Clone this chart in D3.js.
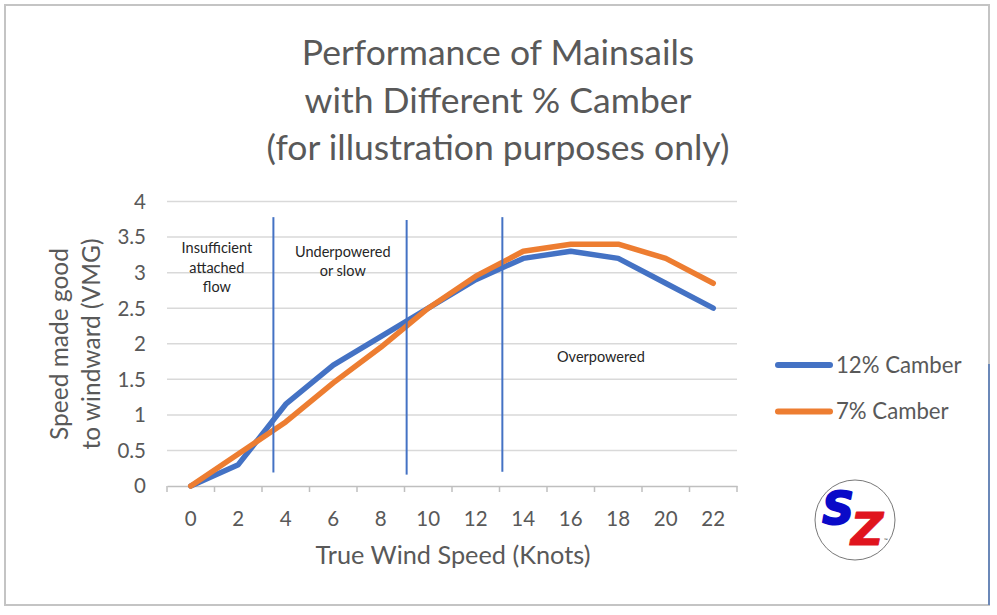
<!DOCTYPE html>
<html>
<head>
<meta charset="utf-8">
<script src="https://cdn.jsdelivr.net/npm/d3@7"></script>
<style>
html,body{margin:0;padding:0;background:#fff;}
svg{display:block;font-family:Lato,"Open Sans",sans-serif;}
</style>
</head>
<body>
<svg id="chart" width="997" height="615"></svg>
<script>
const knots = [0, 2, 4, 6, 8, 10, 12, 14, 16, 18, 20, 22];
const camber12 = [0, 0.3, 1.15, 1.7, 2.1, 2.5, 2.9, 3.2, 3.3, 3.2, 2.85, 2.5];
const camber7 = [0, 0.45, 0.9, 1.45, 1.95, 2.5, 2.95, 3.3, 3.4, 3.4, 3.2, 2.85];
const yTicks = [0, 0.5, 1, 1.5, 2, 2.5, 3, 3.5, 4];
const seriesNames = ["12% Camber", "7% Camber"];
const seriesColors = ["#4472c4", "#ed7d31"];
const dividerKnots = [3.48, 9.09, 13.12];
const dividerTop = [3.78, 3.74, 3.78];
const dividerBottom = [0.19, 0.16, 0.2];
const regionText = [["Insufficient", "attached", "flow"], ["Underpowered", "or slow"], ["Overpowered"]];
const regionX = [1.1, 6.4, 17.27];
const regionY = [3.27, 3.22, 1.75];
const titleLines = ["Performance of Mainsails", "with Different % Camber", "(for illustration purposes only)"];

const svg = d3.select("#chart");
const textCol = "#595959";

// frame
svg.append("rect").attr("x", 5).attr("y", 5).attr("width", 984).attr("height", 600)
  .attr("fill", "#fff").attr("stroke", "#c4c4c4").attr("stroke-width", 2);
svg.append("line").attr("x1", 989).attr("x2", 989).attr("y1", 364).attr("y2", 605)
  .attr("stroke", "#6b88b8").attr("stroke-width", 2);

const x = d3.scaleBand().domain(knots).range([167, 737]).padding(0);
const bw = x.bandwidth();
const xk = d3.scaleLinear().domain([0, 22]).range([x(0) + bw / 2, x(22) + bw / 2]);
const y = d3.scaleLinear().domain([0, 4]).range([486, 201.5]);

// title
svg.append("g").selectAll("text").data(titleLines).join("text")
  .attr("x", 498).attr("y", (d, i) => 65 + i * 47.5)
  .attr("text-anchor", "middle").attr("fill", textCol)
  .style("font-size", "35.5px").style("font-weight", 400).text(d => d);

// gridlines
svg.append("g").selectAll("line").data(yTicks.filter(d => d > 0)).join("line")
  .attr("x1", x.range()[0]).attr("x2", x.range()[1])
  .attr("y1", d => y(d)).attr("y2", d => y(d))
  .attr("stroke", "#d9d9d9").attr("stroke-width", 1.5);

// y tick labels
svg.append("g").selectAll("text").data(yTicks).join("text")
  .attr("x", 146).attr("y", d => y(d)).attr("dy", "0.36em")
  .attr("text-anchor", "end").attr("fill", textCol).style("font-size", "20.5px")
  .text(d => d);

// x axis
const xAxis = d3.axisBottom(x).tickSize(0).tickPadding(0);
const gx = svg.append("g").attr("transform", `translate(0,${y(0)})`).call(xAxis);
gx.select(".domain").attr("stroke", "#bfbfbf").attr("stroke-width", 1.5);
gx.selectAll(".tick text").attr("y", 25).attr("dy", "0.71em").attr("fill", textCol)
  .style("font-size", "20.5px").style("font-family", "Lato,'Open Sans',sans-serif");
const bounds = knots.map(k => x(k)).concat([x(22) + bw]);
svg.append("g").selectAll("line").data(bounds).join("line")
  .attr("x1", d => d).attr("x2", d => d).attr("y1", y(0)).attr("y2", y(0) + 6)
  .attr("stroke", "#bfbfbf").attr("stroke-width", 1.5);

// axis titles
svg.append("text").attr("x", 453).attr("y", 564).attr("text-anchor", "middle")
  .attr("fill", textCol).style("font-size", "25.3px").text("True Wind Speed (Knots)");
const yt = svg.append("text").attr("transform", "translate(68,344) rotate(-90)")
  .attr("text-anchor", "middle").attr("fill", textCol).style("font-size", "24.5px");
yt.append("tspan").attr("x", 0).attr("y", 0).text("Speed made good");
yt.append("tspan").attr("x", 0).attr("y", 32).text("to windward (VMG)");

// series
const line = d3.line().x((d, i) => x(knots[i]) + bw / 2).y(d => y(d));
[camber12, camber7].forEach((s, i) => {
  svg.append("path").datum(s).attr("d", line).attr("fill", "none")
    .attr("stroke", seriesColors[i]).attr("stroke-width", 5.5)
    .attr("stroke-linejoin", "round").attr("stroke-linecap", "round");
});

// dividers
svg.append("g").selectAll("line").data(dividerKnots).join("line")
  .attr("x1", d => xk(d)).attr("x2", d => xk(d))
  .attr("y1", (d, i) => y(dividerTop[i])).attr("y2", (d, i) => y(dividerBottom[i]))
  .attr("stroke", "#4472c4").attr("stroke-width", 2);

// region labels
regionText.forEach((lines, i) => {
  const t = svg.append("text").attr("text-anchor", "middle").attr("fill", "#262626")
    .style("font-size", "14.5px");
  lines.forEach((l, j) => t.append("tspan").attr("x", xk(regionX[i]))
    .attr("y", y(regionY[i]) + j * 19.5).text(l));
});

// legend
const lg = svg.append("g");
seriesNames.forEach((n, i) => {
  const ly = 365 + i * 46.5;
  lg.append("line").attr("x1", 778).attr("x2", 830).attr("y1", ly).attr("y2", ly)
    .attr("stroke", seriesColors[i]).attr("stroke-width", 6).attr("stroke-linecap", "round");
  lg.append("text").attr("x", 836).attr("y", ly).attr("dy", "0.36em").attr("fill", textCol)
    .style("font-size", "22.2px").text(n);
});

// logo
const logo = svg.append("g").attr("transform", "translate(855,520)");
logo.append("circle").attr("r", 40).attr("fill", "#fff").attr("stroke", "#555").attr("stroke-width", 0.8);
logo.append("text").attr("x", -17).attr("y", 4).attr("text-anchor", "middle")
  .style("font-family", "'DejaVu Sans',sans-serif").style("font-weight", "bold").style("font-style", "italic")
  .style("font-size", "44px").attr("fill", "#0a0ac8").attr("stroke", "#0a0ac8").attr("stroke-width", 2)
  .attr("stroke-linejoin", "round").text("S");
logo.append("text").attr("x", 12).attr("y", 25).attr("text-anchor", "middle")
  .style("font-family", "'DejaVu Sans',sans-serif").style("font-weight", "bold").style("font-style", "italic")
  .style("font-size", "45px").attr("fill", "#e0141e").attr("stroke", "#e0141e").attr("stroke-width", 1)
  .attr("stroke-linejoin", "round").text("Z");
logo.append("text").attr("x", 29).attr("y", 22).style("font-size", "5px").attr("fill", "#333").text("™");
</script>
</body>
</html>
